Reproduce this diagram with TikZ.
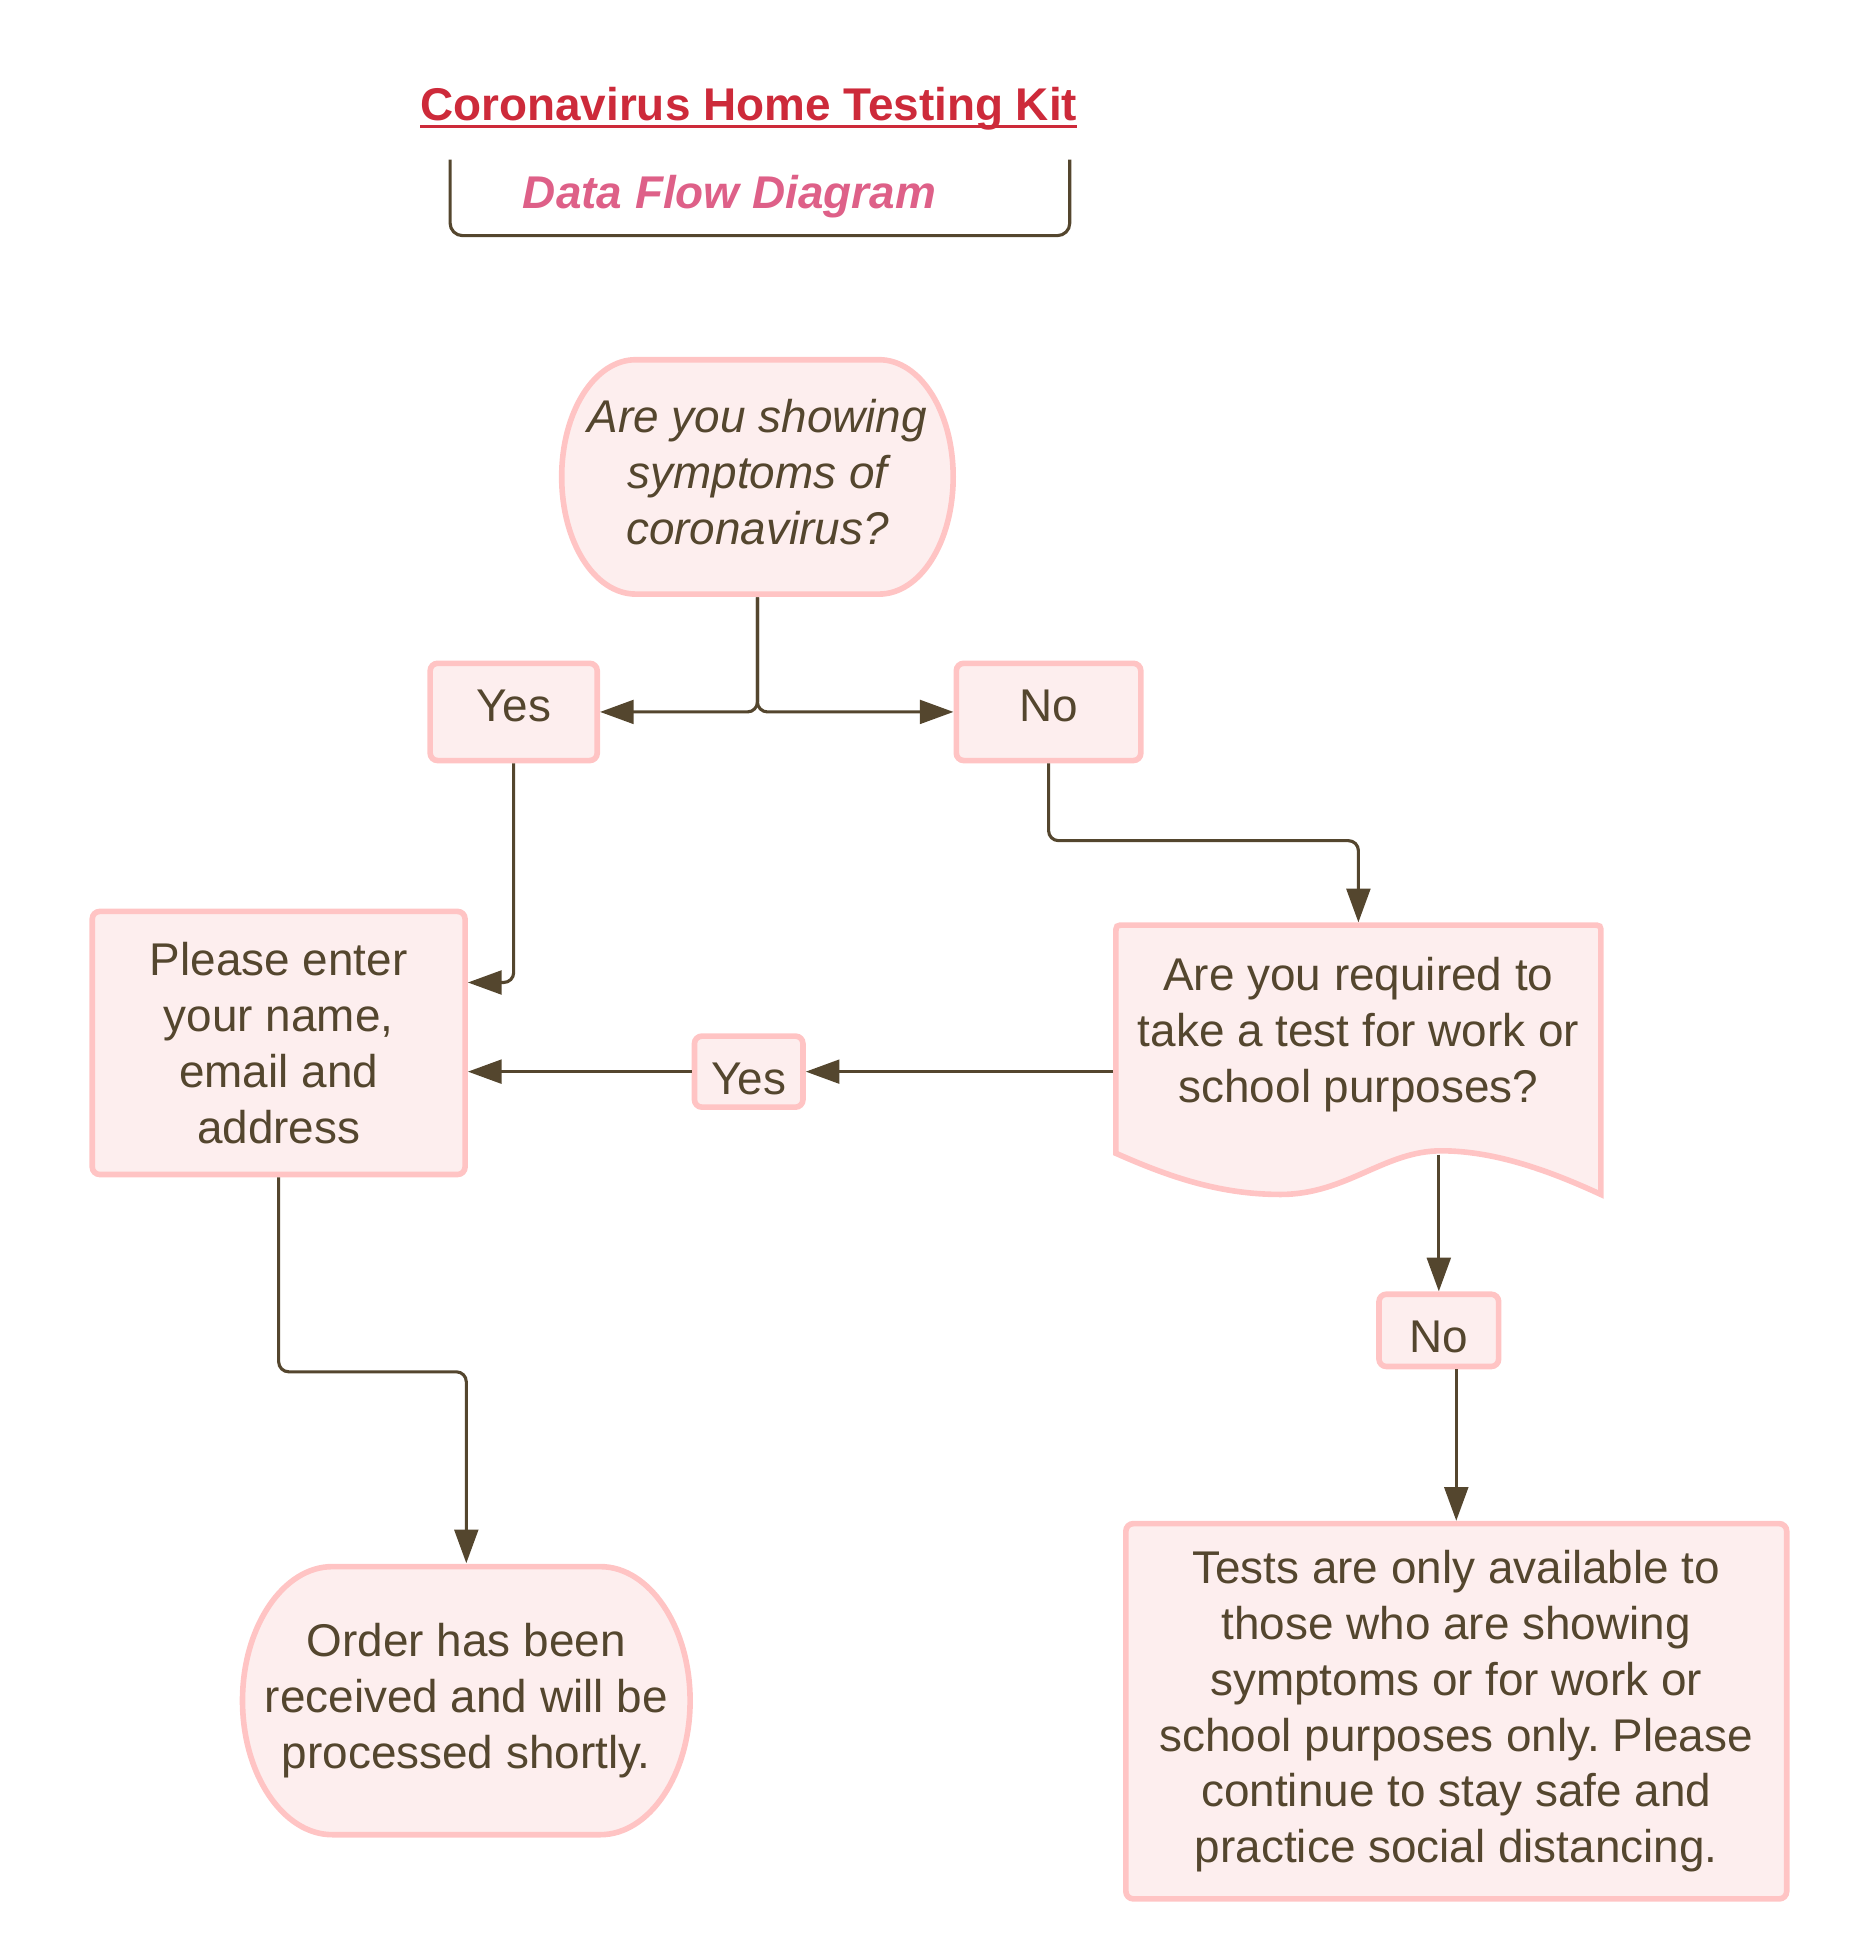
\documentclass[tikz,border=0pt]{standalone}
\usepackage{fontspec}
\setmainfont{Liberation Sans}
\usetikzlibrary{arrows.meta,calc}
\definecolor{ink}{RGB}{84,70,46}
\definecolor{pinkline}{RGB}{255,196,196}
\definecolor{pinkfill}{RGB}{253,238,238}
\definecolor{titlered}{RGB}{205,42,58}
\definecolor{subpink}{RGB}{222,96,136}
\newcommand\dfbody{\fontsize{36.8}{44.8}\selectfont}
\frenchspacing
\begin{document}
\begin{tikzpicture}[x=1pt,y=-1pt,
  every node/.style={font=\dfbody, text=ink},
  box/.style={draw=pinkline, fill=pinkfill, line width=4.5pt, rounded corners=6pt, inner sep=0pt, align=center},
  shapeline/.style={draw=pinkline, fill=pinkfill, line width=4.5pt},
  conn/.style={draw=ink, line width=2.5pt, -{Triangle[length=27pt,width=19pt]}, rounded corners=8pt},
  ghost/.style={inner sep=0pt, align=center},
  smalltop/.style={text height=28pt, text depth=12pt},
  smallbot/.style={text height=36pt, text depth=0pt}
]
\useasboundingbox (0,0) rectangle (1495,1565.6);

% title block
\node[inner sep=0pt, anchor=base, font=\dfbody\bfseries, text=titlered] (title) at (600.5,97) {Coronavirus Home Testing Kit};
\draw[titlered, line width=3pt] ([yshift=-4.5pt]title.base west) -- ([yshift=-4.5pt]title.base east);
\draw[ink, line width=2.5pt, rounded corners=10pt] (361,128) -- (361,189) -- (858,189) -- (858,128);
\node[inner sep=0pt, anchor=base, font=\dfbody\bfseries\itshape, text=subpink] (sub) at (585,167) {Data Flow Diagram};

% start terminal
\path[shapeline] (510,288.5) -- (705,288.5) .. controls (738,288.5) and (764.5,330) .. (764.5,382.5)
  .. controls (764.5,435) and (738,476.5) .. (705,476.5) -- (510,476.5)
  .. controls (477,476.5) and (450.5,435) .. (450.5,382.5)
  .. controls (450.5,330) and (477,288.5) .. (510,288.5) -- cycle;
\node[ghost, minimum width=319pt, minimum height=201pt, font=\dfbody\itshape] (q1) at (607.5,378.5) {Are you showing\\symptoms of\\coronavirus?};

% answer boxes
\node[box, smalltop, minimum width=134pt, minimum height=78pt] (yes1) at (412,571) {Yes};
\node[box, smalltop, minimum width=148pt, minimum height=78pt] (no1) at (841,571) {No};

% please enter
\node[box, minimum width=299pt, minimum height=211pt] (please) at (223.5,836.5) {Please enter\\your name,\\email and\\address};

% document shape
\path[shapeline] (895,925) -- (895,749) .. controls (895,742) .. (902,742) -- (1277,742)
  .. controls (1284,742) .. (1284,749) -- (1284,958)
  .. controls (1245,940) and (1200,923) .. (1156,923)
  .. controls (1110,923) and (1080,958) .. (1027,958)
  .. controls (980,958) and (940,945) .. (895,925) -- cycle;
\node[ghost, minimum width=393pt, minimum height=180pt] (doc) at (1089.5,830) {Are you required to\\take a test for work or\\school purposes?};

\node[box, smallbot, minimum width=87pt, minimum height=57pt] (yes2) at (600.5,859.5) {Yes};
\node[box, smallbot, minimum width=96pt, minimum height=58pt] (no2) at (1154,1067) {No};

% final box
\node[box, minimum width=530pt, minimum height=301pt] (final) at (1168,1372.5) {Tests are only available to\\those who are showing\\symptoms or for work or\\school purposes only. Please\\continue to stay safe and\\practice social distancing.};

% order terminal
\path[shapeline] (266.5,1256.5) -- (481.5,1256.5) .. controls (521,1256.5) and (553.5,1305) .. (553.5,1364)
  .. controls (553.5,1423) and (521,1471.5) .. (481.5,1471.5) -- (266.5,1471.5)
  .. controls (227,1471.5) and (194.5,1423) .. (194.5,1364)
  .. controls (194.5,1305) and (227,1256.5) .. (266.5,1256.5) -- cycle;
\node[ghost, minimum width=364pt, minimum height=220pt] (order) at (374,1364) {Order has been\\received and will be\\processed shortly.};

% connectors
\draw[conn] (q1.south) |- (yes1.east);
\draw[conn] (q1.south) |- (no1.west);
\draw[conn] (yes1.south) |- ([yshift=48.5pt]please.east);
\draw[conn] (no1.south) -- ++(0,62) -| (doc.north);
\draw[conn] (yes2.east -| doc.west) -- (yes2.east);
\draw[conn] (yes2.west) -- (yes2.west -| please.east);
\coordinate (docwave) at (1154,926);
\draw[conn] (docwave) -- (no2.north);
\draw[conn] ([xshift=14pt]no2.south) -- ([xshift=14pt]no2.south |- final.north);
\draw[conn] (please.south) -- ++(0,156) -| (order.north);
\end{tikzpicture}
\end{document}
